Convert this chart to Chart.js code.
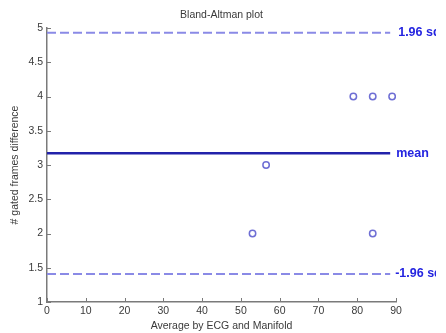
<!DOCTYPE html>
<html>
<head>
<meta charset="utf-8">
<script src="https://cdn.jsdelivr.net/npm/chart.js@4/dist/chart.umd.min.js"></script>
<style>
  html, body { margin: 0; padding: 0; background: #fff; }
  #wrap { width: 446px; height: 333px; position: relative; }
</style>
</head>
<body>
<div id="wrap"><canvas id="ba"></canvas></div>
<script>
  // measurements: average (x) and difference (y)
  const avgValues = [53, 56.5, 79, 84, 89, 84];
  const diffValues = [2, 3, 4, 4, 4, 2];
  // reference lines
  const lineX = [0, 88.5];
  const meanDiff = 3.17;
  const upperLoA = 4.93;
  const lowerLoA = 1.41;
  const refLabels = ["1.96 sd", "mean", "-1.96 sd"];
  const xTicks = [0, 10, 20, 30, 40, 50, 60, 70, 80, 90];
  const yTicks = [1, 1.5, 2, 2.5, 3, 3.5, 4, 4.5, 5];

  const FONT = "'Liberation Sans', Arial, sans-serif";
  const AXIS = "#7a7a7a";
  const TXT = "#3a3a3a";

  const points = avgValues.map((x, i) => ({ x: x, y: diffValues[i] }));
  const hline = (v) => lineX.map((x) => ({ x: x, y: v }));

  // MATLAB-style inward ticks + labels for the reference lines
  const extras = {
    id: "extras",
    afterDraw(chart) {
      const { ctx, chartArea: a, scales } = chart;
      ctx.save();
      ctx.strokeStyle = AXIS;
      ctx.lineWidth = 1;
      ctx.beginPath();
      xTicks.forEach((t) => {
        const px = Math.round(scales.x.getPixelForValue(t)) + 0.5;
        ctx.moveTo(px, a.bottom);
        ctx.lineTo(px, a.bottom - 4);
      });
      yTicks.forEach((t) => {
        const py = Math.round(scales.y.getPixelForValue(t)) + 0.5;
        ctx.moveTo(a.left, py);
        ctx.lineTo(a.left + 4, py);
      });
      ctx.stroke();

      // labels are cut off by the figure edge in the original
      ctx.beginPath();
      ctx.rect(0, 0, 436, chart.height);
      ctx.clip();
      ctx.font = "bold 12.5px " + FONT;
      ctx.fillStyle = "#2424e0";
      ctx.textBaseline = "middle";
      const vals = [upperLoA, meanDiff, lowerLoA];
      const lx = scales.x.getPixelForValue(lineX[1]);
      const offs = [8, 6, 5];
      refLabels.forEach((txt, i) => {
        ctx.fillText(txt, lx + offs[i], scales.y.getPixelForValue(vals[i]));
      });
      ctx.restore();
    },
  };

  new Chart(document.getElementById("ba"), {
    type: "scatter",
    data: {
      datasets: [
        {
          data: points,
          showLine: false,
          pointStyle: "circle",
          pointRadius: 3.2,
          borderColor: "#6e6ed4",
          borderWidth: 1.5,
          backgroundColor: "rgba(0,0,0,0)",
        },
        {
          data: hline(meanDiff),
          showLine: true,
          pointRadius: 0,
          borderColor: "#2222aa",
          borderWidth: 2.5,
        },
        {
          data: hline(upperLoA),
          showLine: true,
          pointRadius: 0,
          borderColor: "#8a8ae6",
          borderWidth: 2,
          borderDash: [9, 4],
        },
        {
          data: hline(lowerLoA),
          showLine: true,
          pointRadius: 0,
          borderColor: "#8a8ae6",
          borderWidth: 2,
          borderDash: [9, 4],
        },
      ],
    },
    options: {
      responsive: true,
      maintainAspectRatio: false,
      animation: false,
      layout: { padding: { left: 0, right: 50, top: 0, bottom: 0 } },
      plugins: {
        legend: { display: false },
        tooltip: { enabled: false },
        title: {
          display: true,
          text: "Bland-Altman plot",
          fullSize: false,
          color: TXT,
          font: { family: FONT, size: 10.5, weight: "normal" },
          padding: { top: 9, bottom: 6.4 },
        },
      },
      scales: {
        x: {
          type: "linear",
          min: 0,
          max: 90,
          afterBuildTicks: (s) => { s.ticks = xTicks.map((v) => ({ value: v })); },
          afterFit: (s) => { s.height = 31; },
          grid: { display: false, drawTicks: false },
          border: { display: true, color: AXIS, width: 1.5 },
          ticks: { color: TXT, padding: 3, font: { family: FONT, size: 10.5 } },
          title: {
            display: true,
            text: "Average by ECG and Manifold",
            color: TXT,
            font: { family: FONT, size: 10.5 },
            padding: { top: 0, bottom: 1 },
          },
        },
        y: {
          type: "linear",
          min: 1,
          max: 5,
          afterBuildTicks: (s) => { s.ticks = yTicks.map((v) => ({ value: v })); },
          afterFit: (s) => { s.width = 47; },
          grid: { display: false, drawTicks: false },
          border: { display: true, color: AXIS, width: 1.5 },
          ticks: { color: TXT, padding: 4, font: { family: FONT, size: 10.5 }, callback: (v) => String(v) },
          title: {
            display: true,
            text: "# gated frames difference",
            color: TXT,
            font: { family: FONT, size: 10.5 },
            padding: { top: 9, bottom: 0 },
          },
        },
      },
    },
    plugins: [extras],
  });
</script>
</body>
</html>
